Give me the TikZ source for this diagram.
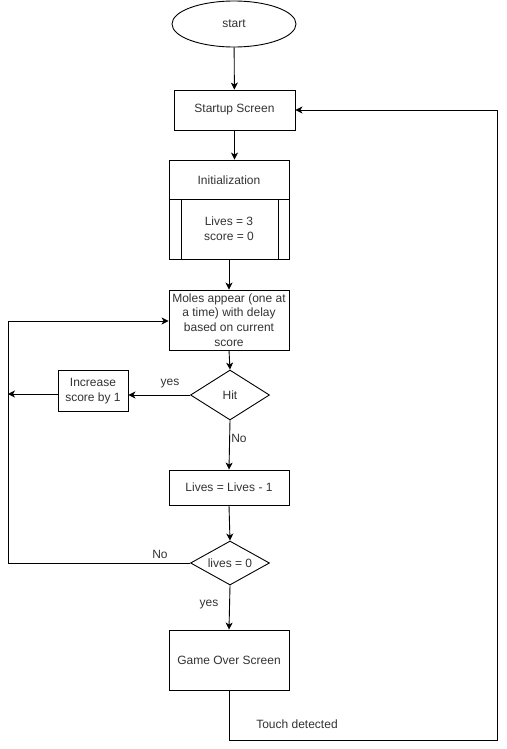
\documentclass[tikz,border=0pt]{standalone}
\usepackage{fontspec}
\setmainfont{Liberation Sans}
\usetikzlibrary{shapes.geometric,arrows.meta}
\begin{document}
\begin{tikzpicture}[x=1pt,y=-1pt,
  every node/.style={font=\fontsize{12}{14.6}\selectfont, text=black!80},
  box/.style={draw, line width=0.9pt, rectangle, inner sep=0pt, align=center},
  dec/.style={draw, line width=0.9pt, diamond, inner sep=0pt, aspect=1.6},
  lbl/.style={inner sep=0pt},
  conn/.style={line width=0.9pt, -{Stealth[length=7pt,width=7pt,inset=2pt]}},
  plain/.style={line width=0.9pt}]
\useasboundingbox[fill=white] (0,0) rectangle (506,749);
\node[box, ellipse, minimum width=124, minimum height=46] (start) at (234,24) {start};
\node[box, minimum width=121, minimum height=40] (startup) at (234.5,110) {Startup Screen};
\node[box, minimum width=120, minimum height=99] (init) at (229,209.5) {};
\draw[plain] (169,199) -- (289,199);
\draw[plain] (181,199) -- (181,259);
\draw[plain] (278,199) -- (278,259);
\node[lbl] (inittitle) at (229,180) {Initialization};
\node[lbl, align=center] (initvals) at (229,229) {Lives = 3\\score = 0};
\node[box, minimum width=120, minimum height=60] (moles) at (229,320) {Moles appear (one at\\a time) with delay\\based on current\\score};
\node[dec, minimum width=79, minimum height=50] (hit) at (230,395) {Hit};
\node[box, minimum width=70, minimum height=41] (inc) at (93,391) {Increase\\score by 1};
\node[box, minimum width=120, minimum height=35] (dec1) at (229,487.5) {Lives = Lives - 1};
\node[dec, minimum width=79, minimum height=44] (zero) at (230,563) {lives = 0};
\node[box, minimum width=120, minimum height=60] (over) at (229,660) {Game Over Screen};
\coordinate (incend) at (8,394);
\coordinate (nl) at (8,563);
\coordinate (nt) at (8,321);
\coordinate (b1) at (229,740);
\coordinate (b2) at (497,740);
\coordinate (b3) at (497,110);

\draw[conn] (start) -- (startup);
\draw[conn] (startup.south) -- (startup.south |- init.north);
\draw[conn] (init.south) -- (moles.north);
\draw[conn] (moles.south) -- (hit.north);
\draw[conn] (hit.west) -- (inc.east |- hit.west);
\draw[conn] (inc.west |- incend) -- (incend);
\draw[conn] (hit.south) -- (dec1.north);
\draw[conn] (dec1.south) -- (zero.north);
\draw[conn] (zero.south) -- (over.north);
\draw[conn] (zero.west) -- (nl) -- (nt) -- (moles.west |- nt);
\draw[conn] (over.south) -- (b1) -- (b2) -- (b3) -- (startup.east);

\node[lbl] (yes1) at (170,384) {yes};
\node[lbl] (no1) at (239,438) {No};
\node[lbl] (no2) at (160,554) {No};
\node[lbl] (yes2) at (209,605) {yes};
\node[lbl] (touch) at (297,724) {Touch detected};
\end{tikzpicture}
\end{document}
